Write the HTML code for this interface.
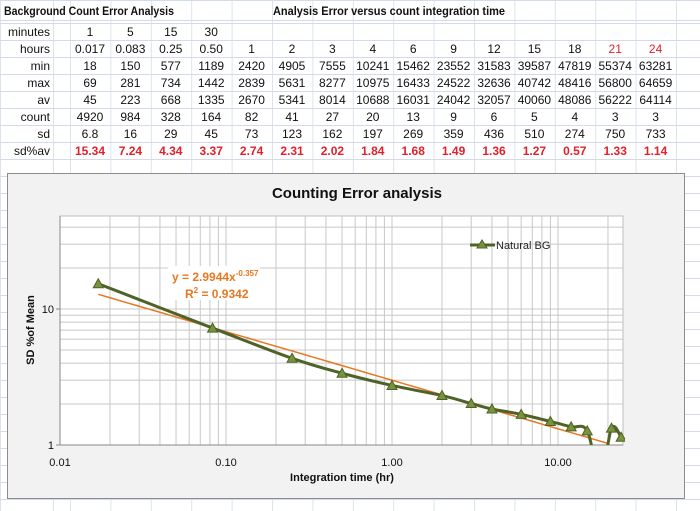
<!DOCTYPE html>
<html><head><meta charset="utf-8"><style>
body{margin:0;width:700px;height:511px;overflow:hidden;background:#fff;font-family:"Liberation Sans",sans-serif;}
svg{display:block}
</style></head><body>
<svg id="s" width="700" height="511" viewBox="0 0 700 511"></svg>
<script>
const hours=[0.017,0.083,0.25,0.5,1,2,3,4,6,9,12,15,18,21,24];
const minutesRow=["1","5","15","30","","","","","","","","","","",""];
const hoursLabels=["0.017","0.083","0.25","0.50","1","2","3","4","6","9","12","15","18","21","24"];
const minVals=[18,150,577,1189,2420,4905,7555,10241,15462,23552,31583,39587,47819,55374,63281];
const maxVals=[69,281,734,1442,2839,5631,8277,10975,16433,24522,32636,40742,48416,56800,64659];
const avVals=[45,223,668,1335,2670,5341,8014,10688,16031,24042,32057,40060,48086,56222,64114];
const countVals=[4920,984,328,164,82,41,27,20,13,9,6,5,4,3,3];
const sdVals=["6.8","16","29","45","73","123","162","197","269","359","436","510","274","750","733"];
const sdPct=[15.34,7.24,4.34,3.37,2.74,2.31,2.02,1.84,1.68,1.49,1.36,1.27,0.57,1.33,1.14];
const trendA=2.9944, trendB=-0.357;
const xTicks=[0.01,0.1,1,10];
const xTickLabels=["0.01","0.10","1.00","10.00"];
const yTicks=[1,10];

const S=document.getElementById('s');const NS='http://www.w3.org/2000/svg';
function el(t,a,p){const e=document.createElementNS(NS,t);for(const k in a)e.setAttribute(k,a[k]);(p||S).appendChild(e);return e;}
const colX=[0,53,70];for(let i=1;i<=16;i++)colX.push(70+40.4*i);
const rowY=[0,20,23];for(let i=1;i<=30;i++)rowY.push(23+17*i);
const gg=el('g',{});


colX.forEach(x=>el('line',{x1:x+.5,y1:0,x2:x+.5,y2:511,stroke:'#dde3ee'},gg));
rowY.forEach(y=>el('line',{x1:0,y1:y+.5,x2:700,y2:y+.5,stroke:'#d4dbe8'},gg));
function txt(x,y,s,o){const t=el('text',Object.assign({x:x,y:y,'font-size':12,fill:'#111','text-anchor':'middle'},o||{}));t.textContent=s;return t;}
let t=txt(4,15,"Background Count Error Analysis",{'text-anchor':'start','font-weight':'bold',textLength:170,lengthAdjust:'spacingAndGlyphs'});

t=txt(273,15,"Analysis Error versus count integration time",{'text-anchor':'start','font-weight':'bold',textLength:232,lengthAdjust:'spacingAndGlyphs'});

const rows=[["minutes",minutesRow],["hours",hoursLabels],["min",minVals],["max",maxVals],["av",avVals],["count",countVals],["sd",sdVals],["sd%av",sdPct.map(v=>v.toFixed(2))]];
rows.forEach((r,ri)=>{const y=36+17*ri;
 t=txt(50,y,r[0],{'text-anchor':'end'});
 
 r[1].forEach((v,ci)=>{const o={};
  if(ri==7){o.fill='#e0202a';o['font-weight']='bold';}
  if(ri==1&&ci>=13)o.fill='#e0202a';
  t=txt(90+40.4*ci,y,String(v),o);
  
 });});
const ch=el('g',{});

el('rect',{x:7.5,y:173.5,width:677,height:325,fill:'#f2f2f2',stroke:'#8c8c8c'},ch);
t=txt(357,198,"Counting Error analysis",{'font-size':15,'font-weight':'bold'});

const PL=60,PR=623,PT=216,PB=445;
const X0=60,XD=166,Y0=445,YD=136;
const xs=v=>X0+(Math.log10(v)+2)*XD;
const ys=v=>Y0-Math.log10(v)*YD;
const plot=el('rect',{x:PL,y:PT,width:PR-PL,height:PB-PT,fill:'#fff',stroke:'#bfbfbf'},ch);

const grid=el('g',{stroke:'#c8c8c8','stroke-width':1},ch);

for(let d=-2;d<=1;d++)for(let m=1;m<=9;m++){const v=m*Math.pow(10,d);const x=xs(v);if(x<=PR&&x>PL)el('line',{x1:x,y1:PT,x2:x,y2:PB},grid);}
for(let d=0;d<=1;d++)for(let m=1;m<=9;m++){const v=m*Math.pow(10,d);const y=ys(v);if(y>=PT&&y<PB)el('line',{x1:PL,y1:y,x2:PR,y2:y},grid);}
el('line',{x1:PL,y1:PB,x2:PR,y2:PB,stroke:'#888'},ch);
el('line',{x1:PL,y1:PT,x2:PL,y2:PB,stroke:'#888'},ch);
xTicks.forEach((v,i)=>{t=txt(xs(v),466,xTickLabels[i],{'font-size':11});
 });
yTicks.forEach(v=>{t=txt(PL-6,ys(v)+4,String(v),{'font-size':11,'text-anchor':'end'});
 
 el('line',{x1:PL-4,y1:ys(v),x2:PL,y2:ys(v),stroke:'#888'},ch);});
t=txt(342,481,"Integration time (hr)",{'font-size':11,'font-weight':'bold'});

t=txt(0,0,"SD %of Mean",{'font-size':11,'font-weight':'bold',transform:'translate(34,330) rotate(-90)'});

const defs=el('defs',{});const cp=el('clipPath',{id:'pc'},defs);el('rect',{x:PL,y:PT,width:PR-PL+2,height:PB-PT},cp);
let tp='';const x1=0.017,x2=20;for(let i=0;i<=40;i++){const v=x1*Math.pow(x2/x1,i/40);tp+=(i?'L':'M')+xs(v).toFixed(1)+' '+ys(trendA*Math.pow(v,trendB)).toFixed(1);}
const tl=el('path',{d:tp,fill:'none',stroke:'#e87722','stroke-width':1.5,'clip-path':'url(#pc)'},ch);

const P=hours.map((h,i)=>[xs(h),ys(sdPct[i])]);
let d='M'+P[0][0]+' '+P[0][1];
for(let i=0;i<P.length-1;i++){const p0=P[i-1]||P[i],p1=P[i],p2=P[i+1],p3=P[i+2]||p2;
 d+=` C${p1[0]+(p2[0]-p0[0])/6} ${p1[1]+(p2[1]-p0[1])/6} ${p2[0]-(p3[0]-p1[0])/6} ${p2[1]-(p3[1]-p1[1])/6} ${p2[0]} ${p2[1]}`;}
const ln=el('path',{d:d,fill:'none',stroke:'#4f6228','stroke-width':3,'clip-path':'url(#pc)'},ch);

const mk=el('g',{'clip-path':'url(#pc)'},ch);

P.forEach(p=>{const m=el('path',{d:`M${p[0]} ${p[1]-5}L${p[0]+5} ${p[1]+4}L${p[0]-5} ${p[1]+4}Z`,fill:'#77933c',stroke:'#4f6228'},mk);
 });
const eq=el('g',{},ch);
el('rect',{x:168,y:266,width:92,height:34,fill:'#fff'},eq);
t=el('text',{x:172,y:281,'font-size':12,'font-weight':'bold',fill:'#e87722'},eq);
t.innerHTML='y = 2.9944x<tspan dy="-5" font-size="8">-0.357</tspan>';
t=el('text',{x:185,y:298,'font-size':12,'font-weight':'bold',fill:'#e87722'},eq);
t.innerHTML='R<tspan dy="-5" font-size="8">2</tspan><tspan dy="5"> = 0.9342</tspan>';
const lg=el('g',{},ch);
el('line',{x1:470,y1:245,x2:495,y2:245,stroke:'#4f6228','stroke-width':3},lg);
el('path',{d:'M482 240L487 248L477 248Z',fill:'#77933c',stroke:'#4f6228'},lg);
t=el('text',{x:496,y:249,'font-size':11,fill:'#222'},lg);t.textContent='Natural BG';
</script>
</body></html>
